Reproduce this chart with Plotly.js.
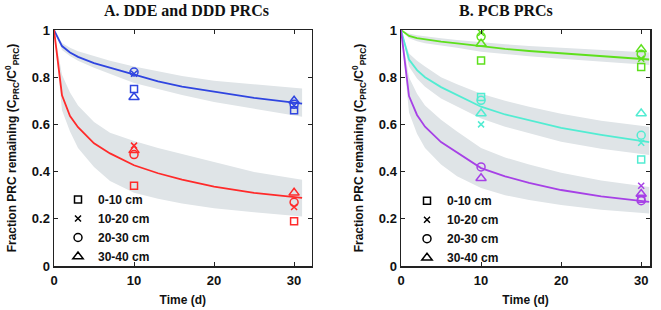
<!DOCTYPE html>
<html>
<head>
<meta charset="utf-8">
<script src="https://cdn.plot.ly/plotly-3.0.1.min.js"></script>
<style>html,body{margin:0;padding:0;background:#fff;}#chart{width:661px;height:310px;}</style>
</head>
<body>
<div id="chart"></div>
<script>
// ---- data ----
const modelDays = [0, 1, 2, 3, 5, 7, 10, 13, 16, 20, 25, 31];
const sampleDays = [10, 30];
const depthLabels = ['0-10 cm', '10-20 cm', '20-30 cm', '30-40 cm'];

// Panel A – blue PRC
const blueFit   = [1, 0.932, 0.905, 0.886, 0.86, 0.84, 0.81, 0.782, 0.760, 0.738, 0.712, 0.688];
const blueUpper = [1, 0.945, 0.925, 0.91, 0.89, 0.87, 0.845, 0.825, 0.805, 0.785, 0.77, 0.752];
const blueLower = [1, 0.915, 0.89, 0.87, 0.84, 0.815, 0.775, 0.75, 0.725, 0.695, 0.665, 0.632];
const blueSq  = [0.75, 0.66];
const blueX   = [0.815, 0.68];
const blueCi  = [0.822, 0.685];
const blueTri = [0.715, 0.70];

// Panel A – red PRC
const redFit   = [1, 0.723, 0.635, 0.588, 0.52, 0.477, 0.427, 0.393, 0.366, 0.336, 0.31, 0.289];
const redUpper = [1, 0.81, 0.735, 0.68, 0.61, 0.565, 0.53, 0.50, 0.475, 0.44, 0.398, 0.365];
const redLower = [1, 0.66, 0.57, 0.50, 0.42, 0.36, 0.31, 0.285, 0.265, 0.245, 0.228, 0.21];
const redSq  = [0.34, 0.19];
const redX   = [0.51, 0.25];
const redCi  = [0.472, 0.27];
const redTri = [0.49, 0.31];

// Panel B – green PRC
const greenFit   = [1, 0.975, 0.966, 0.96, 0.951, 0.943, 0.93, 0.92, 0.911, 0.901, 0.889, 0.875];
const greenUpper = [1, 0.985, 0.978, 0.973, 0.965, 0.958, 0.948, 0.94, 0.932, 0.924, 0.915, 0.905];
const greenLower = [1, 0.965, 0.952, 0.944, 0.934, 0.925, 0.908, 0.898, 0.889, 0.878, 0.866, 0.852];
const greenSq  = [0.871, 0.843];
const greenX   = [0.988, 0.878];
const greenCi  = [0.972, 0.897];
const greenTri = [0.942, 0.918];

// Panel B – cyan PRC
const cyanFit   = [1, 0.875, 0.83, 0.80, 0.758, 0.725, 0.675, 0.642, 0.617, 0.585, 0.556, 0.525];
const cyanUpper = [1, 0.90, 0.87, 0.845, 0.80, 0.77, 0.73, 0.70, 0.675, 0.645, 0.615, 0.59];
const cyanLower = [1, 0.845, 0.795, 0.76, 0.71, 0.675, 0.625, 0.59, 0.562, 0.527, 0.497, 0.47];
const cyanSq  = [0.716, 0.451];
const cyanX   = [0.60, 0.522];
const cyanCi  = [0.702, 0.554];
const cyanTri = [0.646, 0.646];

// Panel B – purple PRC
const purpleFit   = [1, 0.72, 0.64, 0.59, 0.525, 0.48, 0.415, 0.38, 0.352, 0.322, 0.295, 0.272];
const purpleUpper = [1, 0.80, 0.73, 0.68, 0.62, 0.57, 0.50, 0.46, 0.43, 0.395, 0.362, 0.335];
const purpleLower = [1, 0.65, 0.56, 0.50, 0.43, 0.38, 0.33, 0.30, 0.28, 0.258, 0.238, 0.222];
const purpleSq  = [null, 0.285];
const purpleX   = [null, 0.34];
const purpleCi  = [0.42, 0.277];
const purpleTri = [0.372, 0.305];

// ---- styles ----
const BAND = '#dfe4e7';
const COLORS = {blue:'#2f45e0', red:'#ff2a2a', green:'#5ee01c', cyan:'#52ecd2', purple:'#a640e6'};
const SYMBOLS = ['square-open', 'x-thin-open', 'circle-open', 'triangle-up-open'];
const SIZES = [7, 6, 8, 9];

const traces = [];
function addBand(up, lo, xa, ya) {
  traces.push({x: modelDays, y: up, xaxis: xa, yaxis: ya, mode: 'lines', line: {width: 0, color: BAND}, showlegend: false, hoverinfo: 'skip'});
  traces.push({x: modelDays, y: lo, xaxis: xa, yaxis: ya, mode: 'lines', line: {width: 0, color: BAND}, fill: 'tonexty', fillcolor: BAND, showlegend: false, hoverinfo: 'skip'});
}
function addFit(fit, col, xa, ya) {
  traces.push({x: modelDays, y: fit, xaxis: xa, yaxis: ya, mode: 'lines', line: {width: 1.8, color: col}, showlegend: false});
}
function addPoints(series, col, xa, ya) {
  series.forEach((vals, i) => {
    traces.push({x: sampleDays, y: vals, xaxis: xa, yaxis: ya, mode: 'markers', showlegend: false,
      marker: {symbol: SYMBOLS[i], size: SIZES[i], color: col, line: {color: col, width: 1.5}}});
  });
}
function addLegend(leg, xa, ya) {
  depthLabels.forEach((lab, i) => {
    traces.push({x: [null], y: [null], xaxis: xa, yaxis: ya, mode: 'markers', name: lab, legend: leg, showlegend: true,
      marker: {symbol: SYMBOLS[i], size: SIZES[i], color: '#000', line: {color: '#000', width: 1.5}}});
  });
}

addBand(blueUpper, blueLower, 'x', 'y');
addBand(redUpper, redLower, 'x', 'y');
addBand(greenUpper, greenLower, 'x2', 'y2');
addBand(cyanUpper, cyanLower, 'x2', 'y2');
addBand(purpleUpper, purpleLower, 'x2', 'y2');
addFit(blueFit, COLORS.blue, 'x', 'y');
addFit(redFit, COLORS.red, 'x', 'y');
addFit(greenFit, COLORS.green, 'x2', 'y2');
addFit(cyanFit, COLORS.cyan, 'x2', 'y2');
addFit(purpleFit, COLORS.purple, 'x2', 'y2');
addPoints([blueSq, blueX, blueCi, blueTri], COLORS.blue, 'x', 'y');
addPoints([redSq, redX, redCi, redTri], COLORS.red, 'x', 'y');
addPoints([greenSq, greenX, greenCi, greenTri], COLORS.green, 'x2', 'y2');
addPoints([cyanSq, cyanX, cyanCi, cyanTri], COLORS.cyan, 'x2', 'y2');
addPoints([purpleSq, purpleX, purpleCi, purpleTri], COLORS.purple, 'x2', 'y2');
addLegend('legend', 'x', 'y');
addLegend('legend2', 'x2', 'y2');

const W = 661;
const FONT = {family: 'Liberation Sans, Arial, sans-serif', size: 13, color: '#111', weight: 700};
const TFONT = {family: 'Liberation Sans, Arial, sans-serif', size: 12, color: '#111', weight: 700};
const yTitle = 'Fraction PRC remaining (C<sub>PRC</sub>/C<sup>0</sup><sub>PRC</sub>)';

function xAxis(dom, maxv, anchor) {
  return {domain: dom, range: [0, maxv], anchor: anchor, tickvals: [0, 10, 20, 30], ticks: 'inside', ticklen: 4,
    tickcolor: '#222', mirror: 'ticks', showline: true, linecolor: '#222', linewidth: 1.5, showgrid: false, zeroline: false,
    tickfont: FONT, ticklabelstandoff: 2, title: {text: 'Time (d)', font: TFONT, standoff: 8}};
}
function yAxis(anchor) {
  return {domain: [0, 1], range: [0, 1], anchor: anchor, tickvals: [0, 0.2, 0.4, 0.6, 0.8, 1], ticktext: ['0', '0.2', '0.4', '0.6', '0.8', '1'],
    ticks: 'inside', ticklen: 4, tickcolor: '#222', mirror: 'ticks', showline: true, linecolor: '#222', linewidth: 1.5,
    showgrid: false, zeroline: false, tickfont: FONT, title: {text: yTitle, font: TFONT, standoff: 12}};
}

const legendBase = {xanchor: 'left', yanchor: 'middle', bgcolor: 'rgba(0,0,0,0)', font: TFONT, tracegroupgap: 0, traceorder: 'normal'};

const layout = {
  width: 661, height: 310,
  margin: {l: 0, r: 0, t: 30, b: 44},
  paper_bgcolor: '#fff', plot_bgcolor: '#fff',
  xaxis: xAxis([54 / W, 311.7 / W], 32.2, 'y'),
  yaxis: yAxis('x'),
  xaxis2: xAxis([401 / W, 650 / W], 31.1, 'y2'),
  yaxis2: yAxis('x2'),
  legend: Object.assign({}, legendBase, {x: 58 / W, y: 0.161}),
  legend2: Object.assign({}, legendBase, {x: 407 / W, y: 0.156}),
  annotations: [
    {text: '<b>A. DDE and DDD PRCs</b>', xref: 'paper', yref: 'paper', x: 186.7 / W, y: 1, yshift: 20, xanchor: 'center', yanchor: 'middle', showarrow: false,
     font: {family: 'Liberation Serif, Times New Roman, serif', size: 16, color: '#111'}},
    {text: '<b>B. PCB PRCs</b>', xref: 'paper', yref: 'paper', x: 506 / W, y: 1, yshift: 20, xanchor: 'center', yanchor: 'middle', showarrow: false,
     font: {family: 'Liberation Serif, Times New Roman, serif', size: 16, color: '#111'}}
  ],
  showlegend: true
};

Plotly.newPlot('chart', traces, layout, {displayModeBar: false, staticPlot: true});
</script>
</body>
</html>
